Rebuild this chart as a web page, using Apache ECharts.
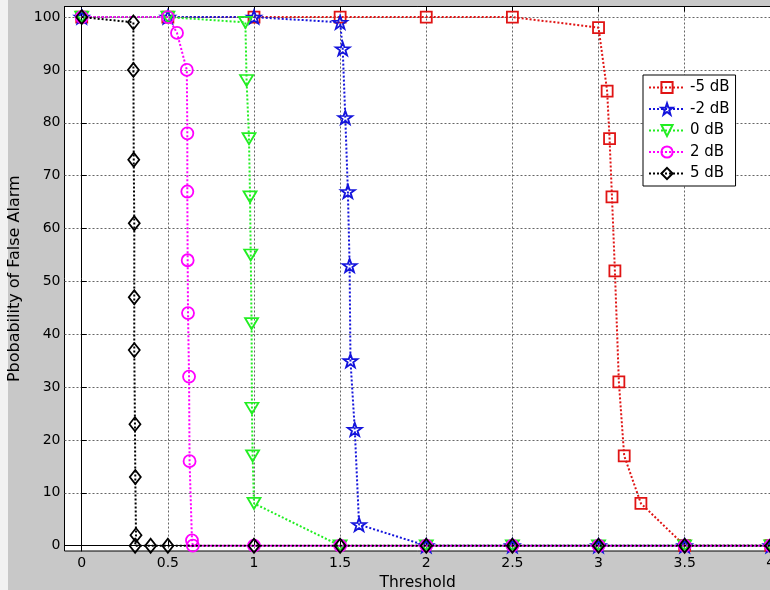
<!DOCTYPE html>
<html><head><meta charset="utf-8">
<script src="https://cdn.jsdelivr.net/npm/echarts@6/dist/echarts.min.js"></script>
<style>html,body{margin:0;padding:0;background:#c8c8c8}#c{width:770px;height:590px}</style>
</head><body><div id="c"></div>
<script>
// ---- data ----
const seriesNames = ['-5 dB', '-2 dB', '0 dB', '2 dB', '5 dB'];
const xTickLabels = ['0', '0.5', '1', '1.5', '2', '2.5', '3', '3.5', '4'];
const yTickLabels = ['0', '10', '20', '30', '40', '50', '60', '70', '80', '90', '100'];

const snrM5X = [0, 0.5, 1, 1.5, 2, 2.5, 3, 3.05, 3.064, 3.078, 3.095, 3.118, 3.149, 3.246, 3.5, 4];
const snrM5Y = [100, 100, 100, 100, 100, 100, 98, 86, 77, 66, 52, 31, 17, 8, 0, 0];
const snrM2X = [0, 0.5, 1, 1.5, 1.515, 1.53, 1.545, 1.555, 1.56, 1.585, 1.61, 2, 2.5, 3, 3.5, 4];
const snrM2Y = [100, 100, 100, 99, 94, 81, 67, 53, 35, 22, 4, 0, 0, 0, 0, 0];
const snr0X = [0, 0.5, 0.95, 0.957, 0.971, 0.977, 0.981, 0.986, 0.988, 0.992, 1.0, 1.5, 2, 2.5, 3, 3.5, 4];
const snr0Y = [100, 100, 99, 88, 77, 66, 55, 42, 26, 17, 8, 0, 0, 0, 0, 0, 0];
const snr2X = [0, 0.5, 0.553, 0.61, 0.613, 0.613, 0.615, 0.617, 0.623, 0.626, 0.64, 0.645, 1, 1.5, 2, 2.5, 3, 3.5, 4];
const snr2Y = [100, 100, 97, 90, 78, 67, 54, 44, 32, 16, 1, 0, 0, 0, 0, 0, 0, 0, 0];
const snr5X = [0, 0.3, 0.3, 0.302, 0.305, 0.305, 0.305, 0.309, 0.311, 0.315, 0.31, 0.4, 0.5, 1, 1.5, 2, 2.5, 3, 3.5, 4];
const snr5Y = [100, 99, 90, 73, 61, 47, 37, 23, 13, 2, 0, 0, 0, 0, 0, 0, 0, 0, 0, 0];

// ---- styling ----
const FONT = 'DejaVu Sans';
const colors = ['#e01414', '#1414dc', '#22ee22', '#ff00ff', '#000000'];
const STAR = 'path://M0,-10 L2.35,-3.24 L9.51,-3.09 L3.8,1.24 L5.88,8.09 L0,4 L-5.88,8.09 L-3.8,1.24 L-9.51,-3.09 L-2.35,-3.24 Z';
const DOWNTRI = 'path://M0,0 L12,0 L6,10 Z';
const symbols = ['rect', STAR, DOWNTRI, 'circle', 'diamond'];
const symSizes = [[11, 11], [14, 13], [13, 11], [12, 12], [11, 14]];

function zip(xs, ys) { return xs.map((x, i) => [x, ys[i]]); }
const allData = [zip(snrM5X, snrM5Y), zip(snrM2X, snrM2Y), zip(snr0X, snr0Y), zip(snr2X, snr2Y), zip(snr5X, snr5Y)];

const xTickVals = xTickLabels.map(Number);
const yTickVals = yTickLabels.map(Number);
function labelFor(vals, labels) {
  return v => { const k = vals.findIndex(t => Math.abs(t - v) < 1e-6); return k < 0 ? '' : labels[k]; };
}

const gridLine = { show: true, lineStyle: { color: '#666', type: [2, 2], width: 1 } };

const chart = echarts.init(document.getElementById('c'), null, { renderer: 'canvas' });
chart.setOption({
  backgroundColor: '#c8c8c8',
  animation: false,
  graphic: [{ type: 'rect', left: 0, top: 0, shape: { width: 8, height: 590 }, style: { fill: '#f2f2f2' }, z: -1 }],
  grid: { left: 64.5, top: 6.5, width: 706.3, bottom: 39, outerBoundsMode: 'none', containLabel: false,
    show: true, backgroundColor: '#fff', borderColor: '#000', borderWidth: 1 },
  legend: {
    orient: 'vertical', left: 643, top: 75, padding: [5, 6, 5, 5],
    backgroundColor: '#fff', borderColor: '#000', borderWidth: 1, borderRadius: 0,
    itemWidth: 36, itemHeight: 14, itemGap: 6.5,
    textStyle: { fontFamily: FONT, fontSize: 15, color: '#000' },
    data: seriesNames
  },
  xAxis: [{
    type: 'value', min: -0.1, max: 4,
    name: 'Threshold', nameLocation: 'middle', nameGap: 22,
    nameTextStyle: { fontFamily: FONT, fontSize: 15.5, color: '#000' },
    axisLine: { lineStyle: { color: '#000', width: 1 } },
    axisTick: { inside: true, length: 5, lineStyle: { color: '#000' }, customValues: xTickVals },
    axisLabel: { margin: 5, fontFamily: FONT, fontSize: 14, color: '#000',
      customValues: xTickVals, formatter: labelFor(xTickVals, xTickLabels) },
    splitLine: gridLine
  }, {
    type: 'value', position: 'top', min: -0.1, max: 4,
    axisLine: { lineStyle: { color: '#000', width: 1 } },
    axisTick: { inside: true, length: 5, lineStyle: { color: '#000' }, customValues: xTickVals },
    axisLabel: { show: false, customValues: xTickVals }, splitLine: { show: false }
  }],
  yAxis: {
    type: 'value', min: -1, max: 102,
    name: 'Pbobability of False Alarm', nameLocation: 'middle', nameGap: 35,
    nameTextStyle: { fontFamily: FONT, fontSize: 16, color: '#000' },
    axisLine: { lineStyle: { color: '#000', width: 1 } },
    axisTick: { inside: true, length: 5, lineStyle: { color: '#000' }, customValues: yTickVals },
    axisLabel: { margin: 4, fontFamily: FONT, fontSize: 14, color: '#000',
      customValues: yTickVals, formatter: labelFor(yTickVals, yTickLabels) },
    splitLine: gridLine
  },
  series: seriesNames.map((name, i) => ({
    name, type: 'line', xAxisIndex: 0, data: allData[i],
    symbol: symbols[i], symbolSize: symSizes[i], showAllSymbol: true,
    lineStyle: { color: colors[i], width: 2, type: 'dotted' },
    itemStyle: { color: 'rgba(255,255,255,0)', borderColor: colors[i], borderWidth: 1.8 },
    emphasis: { disabled: true },
    z: 2 + i
  }))
});
</script></body></html>
